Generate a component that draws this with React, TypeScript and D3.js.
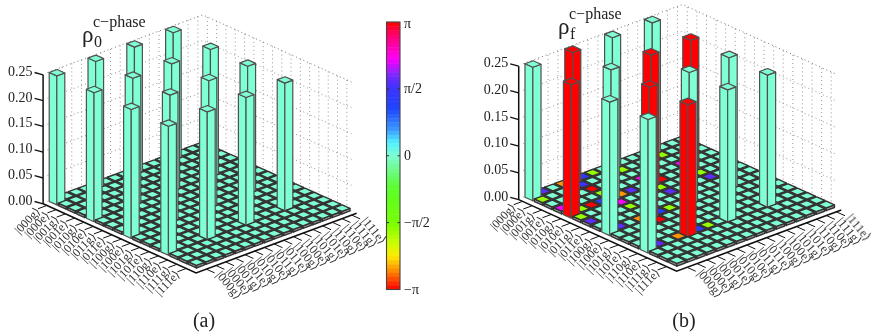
import React from "react";
import * as d3 from "d3";

// basis states along both floor axes
const basisLabels = [
  "|000g⟩", "|000e⟩", "|001g⟩", "|001e⟩", "|010g⟩", "|010e⟩", "|011g⟩", "|011e⟩",
  "|100g⟩", "|100e⟩", "|101g⟩", "|101e⟩", "|110g⟩", "|110e⟩", "|111g⟩", "|111e⟩",
];
const zTicks = [0, 0.05, 0.1, 0.15, 0.2, 0.25];

// populated elements: every row/col pair out of these states sits at 0.25
const populatedStates = [0, 4, 8, 12];
const populatedHeight = 0.25;
const floorHeight = 0.005;

// panel (b): bars whose phase is flipped to pi
const redBarRows = [0, 4, 4, 8, 4, 12];
const redBarCols = [4, 0, 8, 4, 12, 4];

// panel (b): floor cells with a non-zero phase, phase in units of pi
const offRows = [1, 0, 0, 3, 0, 5, 0, 6, 1, 4, 2, 4, 3, 4, 1, 8, 3, 8, 4, 5, 4, 6, 1, 12, 3, 12, 4, 9, 5, 8, 6, 8, 5, 12, 6, 12];
const offCols = [0, 1, 3, 0, 5, 0, 6, 0, 4, 1, 4, 2, 4, 3, 8, 1, 8, 3, 5, 4, 6, 4, 12, 1, 12, 3, 9, 4, 8, 5, 8, 6, 12, 5, 12, 6];
const offPhases = [
  -0.55, 0.55, -0.85, 0.72, 0.42, -0.55, -0.55, 0.55, 0.5, -0.55, 1, -1, -0.55, 0.42, -0.55, 0.55, 0.72, -0.85,
  -0.85, 0.72, 0.55, -0.55, -0.55, 0.55, 0.72, -0.85, 1, -1, -0.55, 0.42, 0.55, -0.55, -0.55, 0.42, 0.55, -0.55,
];

// colour bar
const phaseStops = [-1, -0.85, -0.75, -0.65, -0.5, -0.25, -0.1, 0, 0.1, 0.2, 0.35, 0.5, 0.6, 0.72, 0.9, 1];
const phaseColors = [
  "#ff0000", "#ff9600", "#ffeb00", "#c8ff00", "#78ff00", "#5aff28", "#6efa8c", "#7fffd4",
  "#50f0ff", "#3c96ff", "#1e46ff", "#3c32ff", "#7828ff", "#ff00ff", "#ff006e", "#ff0000",
];
const phaseLabels = ["π", "π/2", "0", "−π/2", "−π"];
const phaseLabelValues = [1, 0.5, 0, -0.5, -1];

const color = d3.scaleLinear<string>().domain(phaseStops).range(phaseColors).interpolate(d3.interpolateRgb);

const serif = "'Liberation Serif', 'DejaVu Serif', serif";
const ink = "#222";

type Layout = {
  ox: number; oy: number; // centre of cell (0,0) on the floor
  ux: number; uy: number; // one row step
  vx: number; vy: number; // one column step
  h: number; // pixels for 0.25
};

function Panel({ layout, redRows, redCols, rows, cols, phases }: {
  layout: Layout; redRows: number[]; redCols: number[]; rows: number[]; cols: number[]; phases: number[];
}) {
  const { ox, oy, ux, uy, vx, vy, h } = layout;
  const z = d3.scaleLinear().domain([0, 0.25]).range([0, -h]);
  const project = (i: number, j: number, val = 0): [number, number] => [
    ox + i * ux + j * vx,
    oy + i * uy + j * vy + z(val),
  ];
  const path = d3.line();

  const phaseOf = (i: number, j: number) => {
    for (let k = 0; k < rows.length; k++) if (rows[k] === i && cols[k] === j) return phases[k];
    for (let k = 0; k < redRows.length; k++) if (redRows[k] === i && redCols[k] === j) return 1;
    return 0;
  };

  // painter's order, back corner first
  const cells: { i: number; j: number; val: number }[] = [];
  for (let i = 0; i < 16; i++) {
    for (let j = 15; j >= 0; j--) {
      const populated = populatedStates.includes(i) && populatedStates.includes(j);
      cells.push({ i, j, val: populated ? populatedHeight : floorHeight });
    }
  }

  const axisJ = -1.05;
  const axisI = 16.05;
  const zx = project(-0.4, axisJ)[0];
  const zy = project(-0.4, axisJ)[1];

  return (
    <g>
      {/* back walls */}
      {basisLabels.map((_, k) => (
        <g key={k} stroke="#8a8a8a" strokeWidth={0.9} strokeDasharray="1 3" fill="none">
          <path d={path([project(-0.5, k), project(-0.5, k, 0.25)]) as string} />
          <path d={path([project(k, 15.5), project(k, 15.5, 0.25)]) as string} />
        </g>
      ))}
      {zTicks.map((t) => (
        <path
          key={t}
          d={path([project(-0.5, -0.5, t), project(-0.5, 15.5, t), project(15.5, 15.5, t)]) as string}
          stroke={t === 0.25 ? "#666" : "#8a8a8a"}
          strokeWidth={0.9}
          strokeDasharray="1 3"
          fill="none"
        />
      ))}

      {/* bars */}
      {cells.map(({ i, j, val }) => {
        const c = color(phaseOf(i, j));
        const tall = val > 0.1;
        const a = tall ? 0.41 : 0.42;
        const top = [project(i - a, j - a, val), project(i + a, j - a, val), project(i + a, j + a, val), project(i - a, j + a, val)];
        const left = [project(i - a, j - a), project(i + a, j - a), project(i + a, j - a, val), project(i - a, j - a, val)];
        const right = [project(i + a, j - a), project(i + a, j + a), project(i + a, j + a, val), project(i + a, j - a, val)];
        return (
          <g key={`${i}-${j}`} stroke={tall ? "#505050" : "#333"} strokeWidth={tall ? 1.2 : 1.4} strokeLinejoin="round">
            <path d={(path(left) as string) + "Z"} fill={tall ? c : "#999"} />
            <path d={(path(right) as string) + "Z"} fill={tall ? c : "#999"} />
            <path d={(path(top) as string) + "Z"} fill={c} />
          </g>
        );
      })}

      {/* z axis */}
      <path d={path([[zx, zy], [zx, zy + z(0.25)]]) as string} stroke="#111" strokeWidth={1.5} fill="none" />
      {zTicks.map((t) => (
        <g key={t}>
          <line x1={zx} y1={zy + z(t)} x2={zx - 8.5} y2={zy + z(t) - 2.3} stroke="#111" strokeWidth={1.3} />
          <text x={zx - 10.5} y={zy + z(t) + 1} textAnchor="end" fontFamily={serif} fontSize={14} fill={ink}>
            {t.toFixed(2)}
          </text>
        </g>
      ))}

      {/* floor axes */}
      <path
        d={path([project(-0.4, axisJ), project(axisI, axisJ), project(axisI, 15.5)]) as string}
        stroke="#111"
        strokeWidth={1.6}
        fill="none"
        strokeLinejoin="miter"
      />
      {basisLabels.map((label, k) => {
        const [x1, y1] = project(k, axisJ);
        const [x2, y2] = project(k, axisJ - 0.9);
        const [tx, ty] = project(k, axisJ - 1);
        return (
          <g key={k}>
            <line x1={x1} y1={y1} x2={x2} y2={y2} stroke="#111" strokeWidth={1} />
            <text transform={`translate(${tx + 4},${ty + 3}) rotate(-46)`} textAnchor="end" fontFamily={serif} fontSize={12} fill="#333">
              {label}
            </text>
          </g>
        );
      })}
      {basisLabels.map((label, k) => {
        const [x1, y1] = project(axisI, k);
        const [x2, y2] = project(axisI + 0.9, k);
        const [tx, ty] = project(axisI + 1, k);
        return (
          <g key={k}>
            <line x1={x1} y1={y1} x2={x2} y2={y2} stroke="#111" strokeWidth={1} />
            <text transform={`translate(${tx},${ty + 2}) rotate(50)`} textAnchor="start" fontFamily={serif} fontSize={12.5} fill="#333">
              {label}
            </text>
          </g>
        );
      })}
    </g>
  );
}

function ColorBar() {
  const top = 22;
  const bottom = 289.5;
  const x = 386.5;
  const w = 13.5;
  const y = d3.scaleLinear().domain([1, -1]).range([top, bottom]);
  const bands = d3.range(64).map((k) => 1 - (k * 2) / 64);
  return (
    <g>
      {bands.map((b) => (
        <rect key={b} x={x} y={y(b)} width={w} height={y(b - 2 / 64) - y(b) + 0.5} fill={color(b - 1 / 64)} />
      ))}
      <rect x={x} y={top} width={w} height={bottom - top} fill="none" stroke="#444" strokeWidth={1.1} />
      {phaseLabels.map((label, k) => {
        const v = phaseLabelValues[k];
        return (
          <g key={label}>
            {Math.abs(v) < 1 && (
              <g stroke="#333" strokeWidth={1}>
                <line x1={x} x2={x + 2.5} y1={y(v)} y2={y(v)} />
                <line x1={x + w - 2.5} x2={x + w} y1={y(v)} y2={y(v)} />
              </g>
            )}
            <text x={404} y={y(v) + (v === 1 ? 6 : 4.5)} fontFamily={serif} fontSize={14} fill={ink}>
              {label}
            </text>
          </g>
        );
      })}
    </g>
  );
}

function Title({ x, y, sub, label }: { x: number; y: number; sub: string; label: string }) {
  return (
    <g fontFamily={serif} fill={ink}>
      <text x={x} y={y} fontSize={23}>ρ</text>
      <text x={x + 11} y={y - 15} fontSize={16}>{label}</text>
      <text x={x + 12} y={y + 5} fontSize={16}>{sub}</text>
    </g>
  );
}

export default function App() {
  const layoutA: Layout = { ox: 57, oy: 201.7, ux: 9.3, uy: 4.2, vx: 9.7, vy: -3.6, h: 129 };
  const layoutB: Layout = { ox: 533, oy: 197.5, ux: 9.6, uy: 4.35, vx: 9.95, vy: -3.7, h: 133.5 };
  return (
    <svg width={873} height={336} style={{ position: "absolute", left: 0, top: 0, display: "block", background: "#fff" }}>
      <defs>
        <filter id="soft" x="0" y="0" width="100%" height="100%">
          <feGaussianBlur stdDeviation="0.35" />
        </filter>
      </defs>
      <g filter="url(#soft)">
        <rect width={873} height={336} fill="#fff" />
        <Panel layout={layoutA} redRows={[]} redCols={[]} rows={[]} cols={[]} phases={[]} />
        <Panel layout={layoutB} redRows={redBarRows} redCols={redBarCols} rows={offRows} cols={offCols} phases={offPhases} />
        <ColorBar />
        <Title x={82} y={42} sub="0" label="c−phase" />
        <Title x={558} y={34} sub="f" label="c−phase" />
        <text x={204} y={327} textAnchor="middle" fontFamily={serif} fontSize={20} fill={ink}>(a)</text>
        <text x={684} y={327} textAnchor="middle" fontFamily={serif} fontSize={20} fill={ink}>(b)</text>
      </g>
    </svg>
  );
}
